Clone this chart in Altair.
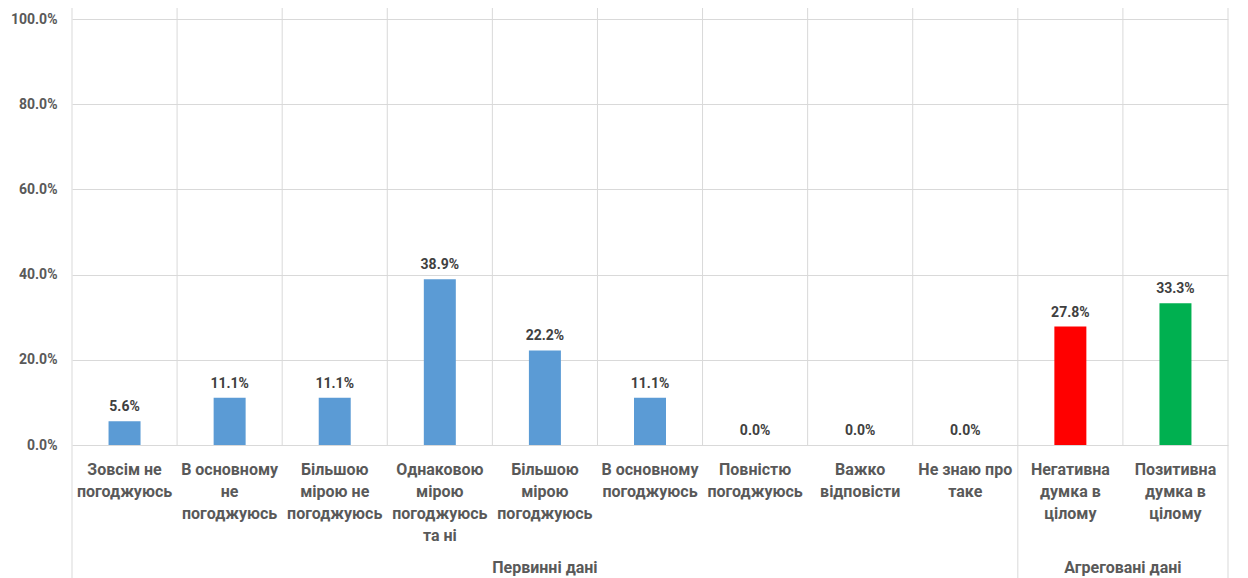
import altair as alt
import pandas as pd

categories = [
    "Зовсім не\nпогоджуюсь",
    "В основному\nне\nпогоджуюсь",
    "Більшою\nмірою не\nпогоджуюсь",
    "Однаковою\nмірою\nпогоджуюсь\nта ні",
    "Більшою\nмірою\nпогоджуюсь",
    "В основному\nпогоджуюсь",
    "Повністю\nпогоджуюсь",
    "Важко\nвідповісти",
    "Не знаю про\nтаке",
    "Негативна\nдумка в\nцілому",
    "Позитивна\nдумка в\nцілому",
]
values = [5.6, 11.1, 11.1, 38.9, 22.2, 11.1, 0.0, 0.0, 0.0, 27.8, 33.3]
kinds = ["base"] * 9 + ["neg", "pos"]
groups = ["Первинні дані"] * 9 + ["Агреговані дані"] * 2

FONT = "Roboto"
n = len(categories)

df = pd.DataFrame({
    "cat": categories,
    "val": [v / 100 for v in values],
    "kind": kinds,
    "group": groups,
})
df["pos"] = [i + 0.5 for i in range(n)]

grp = df.groupby("group", sort=False)["pos"].mean().reset_index()

bounds = pd.DataFrame({"b": list(range(n + 1))})
group_edges = [0, groups.index("Агреговані дані"), n]
long_bounds = pd.DataFrame({"b": group_edges})

xs = alt.Scale(domain=[0, n], nice=False, zero=False, padding=0)
ys = alt.Scale(domain=[0, 1], nice=False)
yaxis = alt.Axis(
    values=[0, 0.2, 0.4, 0.6, 0.8, 1.0], format=".1%", title=None,
    domain=False, ticks=False, labelPadding=15, labelFontSize=14,
    labelFontWeight="bold", labelColor="#595959", labelFont=FONT,
    grid=True, gridColor="#d9d9d9", gridWidth=1)


def X(field):
    return alt.X(field, scale=xs, axis=None)


base = alt.Chart(df)

bars = base.mark_bar(size=32).encode(
    x=X("pos:Q"),
    y=alt.Y("val:Q", scale=ys, axis=yaxis),
    color=alt.Color("kind:N", scale=alt.Scale(domain=["base", "neg", "pos"],
                                              range=["#5B9BD5", "#FF0000", "#00B050"]),
                    legend=None),
)

labels = base.mark_text(dy=-10, baseline="alphabetic", fontSize=14, fontWeight="bold",
                        font=FONT, color="#404040").encode(
    x=X("pos:Q"),
    y=alt.Y("val:Q", scale=ys, axis=yaxis),
    text=alt.Text("val:Q", format=".1%"),
)

vrules = alt.Chart(bounds).mark_rule(color="#d9d9d9", strokeWidth=1).encode(
    x=X("b:Q"),
    y=alt.value(-12),
    y2=alt.value(426),
)

lrules = alt.Chart(long_bounds).mark_rule(color="#d9d9d9", strokeWidth=1).encode(
    x=X("b:Q"),
    y=alt.value(426),
    y2=alt.value(560),
)

catlabels = base.mark_text(baseline="top", align="center", lineBreak="\n", lineHeight=22,
                           fontSize=16, fontWeight="bold", font=FONT,
                           color="#595959").encode(
    x=X("pos:Q"),
    y=alt.value(443),
    text="cat:N",
)

grplabels = alt.Chart(grp).mark_text(baseline="alphabetic", align="center", fontSize=16,
                                     fontWeight="bold", font=FONT,
                                     color="#595959").encode(
    x=X("pos:Q"),
    y=alt.value(554),
    text="group:N",
)

chart = alt.layer(vrules, lrules, bars, labels, catlabels, grplabels).properties(
    width=1156, height=426,
    autosize=alt.AutoSizeParams(type="none"),
    padding={"left": 64, "top": 11, "right": 12, "bottom": 133},
).configure_view(strokeWidth=0)

chart.save("out.html", embed_options={"renderer": "svg", "actions": False})
